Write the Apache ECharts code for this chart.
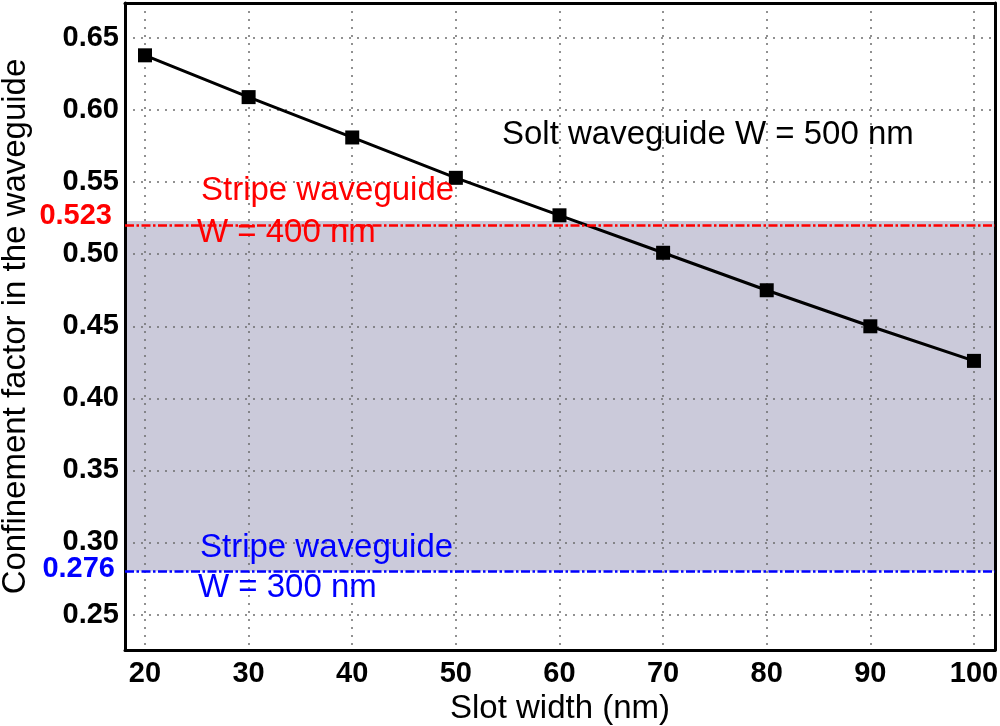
<!DOCTYPE html>
<html>
<head>
<meta charset="utf-8">
<script src="https://cdn.jsdelivr.net/npm/echarts@6/dist/echarts.min.js"></script>
<style>
html,body{margin:0;padding:0;background:#fff;}
#chart{width:1000px;height:726px;}
</style>
</head>
<body>
<div id="chart"></div>
<script>
// ---- data ----
const slotWidths = [20, 30, 40, 50, 60, 70, 80, 90, 100];
const confinement = [0.638, 0.609, 0.581, 0.553, 0.527, 0.501, 0.475, 0.450, 0.426];
const refLineValues = [0.523, 0.280];       // stripe waveguide W=400 / W=300 (drawn positions)
const refLineLabels = ['0.523', '0.276'];
const xRange = [18.07, 102.03];
const yRange = [0.2254, 0.6743];
const xTitle = 'Slot width (nm)';
const yTitle = 'Confinement factor in the waveguide';

const FONT = "'Liberation Sans', Arial, Helvetica, sans-serif";
const chart = echarts.init(document.getElementById('chart'), null, {renderer: 'canvas'});

const gridLine = {show: true, lineStyle: {color: '#6e6e6e', width: 1.5, type: [2, 6]}};
const frameLine = {show: true, onZero: false, lineStyle: {color: '#000', width: 3}};

const option = {
  backgroundColor: '#fff',
  animation: false,
  grid: {left: 125, right: 5, top: 3, bottom: 76, containLabel: false, outerBoundsMode: 'none'},
  xAxis: [{
    type: 'value', min: xRange[0], max: xRange[1], splitNumber: 8, z: 2,
    axisLine: frameLine, axisTick: {show: false}, splitLine: gridLine,
    axisLabel: {
      color: '#000', fontFamily: FONT, fontWeight: 'bold', fontSize: 29, margin: 9,
      formatter: v => (Math.abs(v - Math.round(v / 10) * 10) < 1e-6 ? String(Math.round(v)) : '')
    },
    name: xTitle, nameLocation: 'middle', nameGap: 41,
    nameTextStyle: {color: '#000', fontFamily: FONT, fontSize: 33}
  }, {
    type: 'value', position: 'top', min: xRange[0], max: xRange[1], z: 2,
    axisLine: frameLine, axisTick: {show: false}, axisLabel: {show: false}, splitLine: {show: false}
  }],
  yAxis: [{
    type: 'value', min: yRange[0], max: yRange[1], splitNumber: 9, z: 2,
    axisLine: frameLine, axisTick: {show: false}, splitLine: gridLine,
    axisLabel: {
      color: '#000', fontFamily: FONT, fontWeight: 'bold', fontSize: 29, margin: 6,
      formatter: v => (Math.abs(v * 20 - Math.round(v * 20)) < 1e-6 ? v.toFixed(2) : '')
    },
    name: yTitle, nameLocation: 'middle', nameGap: 93, nameRotate: 90,
    nameTextStyle: {color: '#000', fontFamily: FONT, fontSize: 33}
  }, {
    type: 'value', position: 'right', min: yRange[0], max: yRange[1], z: 2,
    axisLine: frameLine, axisTick: {show: false}, axisLabel: {show: false}, splitLine: {show: false}
  }],
  series: [{
    type: 'line', data: [], z: 1, silent: true,
    markArea: {
      silent: true,
      itemStyle: {color: '#cbcada', opacity: 1},
      data: [[{yAxis: refLineValues[1], xAxis: xRange[0]}, {yAxis: refLineValues[0], xAxis: xRange[1]}]]
    }
  }, {
    type: 'line', z: 3,
    data: slotWidths.map((x, i) => [x, confinement[i]]),
    symbol: 'rect', symbolSize: 14,
    lineStyle: {color: '#000', width: 3},
    itemStyle: {color: '#000'},
    markLine: {
      silent: true, symbol: 'none', animation: false,
      label: {show: false},
      data: [
        {yAxis: refLineValues[0], lineStyle: {color: '#ff0000', width: 2.5, type: [9, 2.5, 2.5, 2.5]}},
        {yAxis: refLineValues[1], lineStyle: {color: '#0000ff', width: 2.5, type: [9, 2.5, 2.5, 2.5]}}
      ]
    }
  }]
};
chart.setOption(option);

// annotations anchored to the reference line values
const yRed = chart.convertToPixel({yAxisIndex: 0}, refLineValues[0]);
const yBlue = chart.convertToPixel({yAxisIndex: 0}, refLineValues[1]);
const txt = (x, y, s, color, extra) => Object.assign({
  type: 'text', x: x, y: y, z: 10,
  style: Object.assign({text: s, fill: color, font: '33px ' + FONT, textVerticalAlign: 'middle'}, extra || {})
});
chart.setOption({
  graphic: [
    txt(112, yRed - 5, refLineLabels[0], '#ff0000', {font: 'bold 29px ' + FONT, textAlign: 'right'}),
    txt(115, yBlue - 2, refLineLabels[1], '#0000ff', {font: 'bold 29px ' + FONT, textAlign: 'right'}),
    txt(201, yRed - 30, 'Stripe waveguide', '#ff0000'),
    txt(197, yRed + 12, 'W = 400 nm', '#ff0000'),
    txt(200, yBlue - 23, 'Stripe waveguide', '#0000ff'),
    txt(198, yBlue + 17, 'W = 300 nm', '#0000ff'),
    txt(502, 135, 'Solt waveguide W = 500 nm', '#000')
  ]
});
</script>
</body>
</html>
